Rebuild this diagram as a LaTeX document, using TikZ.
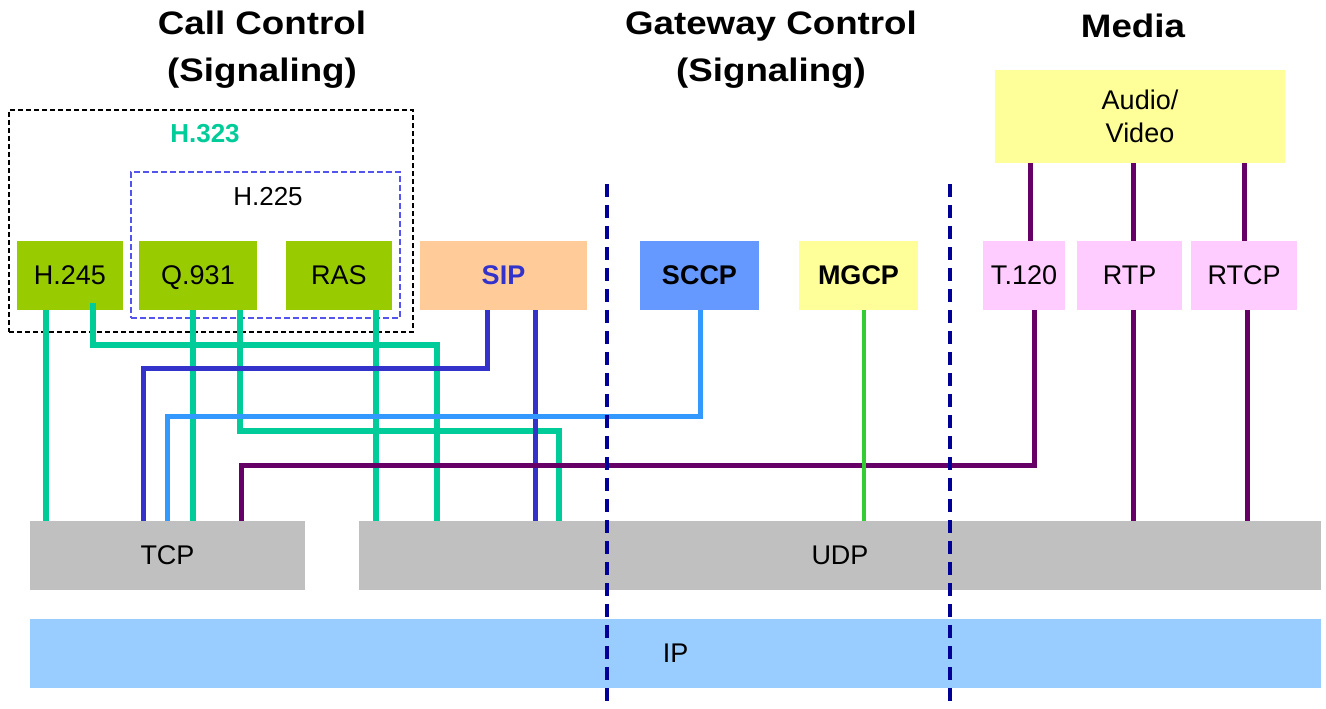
\documentclass[tikz,border=0pt]{standalone}
\usepackage{fontspec}
\setmainfont{Liberation Sans}
\newfontfamily\titlefont[FakeStretch=1.13]{Liberation Sans}

\definecolor{h323green}{HTML}{99CC00}
\definecolor{sipfill}{HTML}{FFCC99}
\definecolor{sccpfill}{HTML}{6699FF}
\definecolor{paleyellow}{HTML}{FFFF99}
\definecolor{palepink}{HTML}{FFCCFF}
\definecolor{layergrey}{HTML}{C0C0C0}
\definecolor{ipblue}{HTML}{99CCFF}
\definecolor{tealline}{HTML}{00CC99}
\definecolor{blueline}{HTML}{3333CC}
\definecolor{skyline}{HTML}{3399FF}
\definecolor{plumline}{HTML}{660066}
\definecolor{greenline}{HTML}{33CC33}
\definecolor{dividerblue}{HTML}{000099}
\definecolor{h225edge}{HTML}{5555EE}

\begin{document}
\begin{tikzpicture}[x=1pt,y=-1pt,
  proto/.style={inner sep=0pt, outer sep=0pt, minimum height=69pt, text depth=0pt,
    font=\fontsize{27}{33}\selectfont, align=center},
  boldproto/.style={proto, font=\fontsize{27}{33}\selectfont\bfseries},
  heading/.style={inner sep=0pt, font=\titlefont\fontsize{32.5}{47}\selectfont\bfseries, align=center},
  groupbox/.style={inner sep=0pt, outer sep=0pt, line width=1.3pt},
  teal/.style={draw=tealline, line width=6.5pt},
  sipwire/.style={draw=blueline, line width=5pt},
  sccpwire/.style={draw=skyline, line width=5pt},
  plum/.style={draw=plumline, line width=5pt},
  mgcpwire/.style={draw=greenline, line width=4pt},
  divider/.style={draw=dividerblue, line width=3.5pt, dash pattern=on 13pt off 8pt}
]
\useasboundingbox (0,0) rectangle (1326,709);

% column headings
\node[heading] (hcall) at (262,50) {Call Control\\(Signaling)};
\node[heading] (hgw) at (771,50) {Gateway Control\\(Signaling)};
\node[heading, anchor=base] (hmedia) at (1133,38) {Media};

% H.323 and H.225 groupings
\node[groupbox, draw=black, dash pattern=on 5pt off 3pt,
  minimum width=404pt, minimum height=222pt] (h323) at (211,221) {};
\node[font=\fontsize{26}{30}\selectfont\bfseries, text=tealline] (h323lbl) at (205,134) {H.323};
\node[groupbox, draw=h225edge, dash pattern=on 6pt off 3pt,
  minimum width=269pt, minimum height=146pt] (h225) at (265.5,245) {};
\node[font=\fontsize{26}{30}\selectfont] (h225lbl) at (268,197) {H.225};

% signalling protocols
\node[proto, fill=h323green, minimum width=106pt] (h245) at (70,275.5) {H.245};
\node[proto, fill=h323green, minimum width=118pt] (q931) at (198,275.5) {Q.931};
\node[proto, fill=h323green, minimum width=106pt] (ras) at (339,275.5) {RAS};
\node[boldproto, fill=sipfill, text=blueline, minimum width=167pt] (sip) at (503.5,275.5) {SIP};
\node[boldproto, fill=sccpfill, minimum width=119pt] (sccp) at (699.5,275.5) {SCCP};
\node[boldproto, fill=paleyellow, minimum width=119pt] (mgcp) at (858.5,275.5) {MGCP};

% media protocols
\node[proto, fill=paleyellow, minimum width=290pt, minimum height=93pt] (av) at (1140,116.5) {Audio/\\Video};
\node[proto, fill=palepink, minimum width=82pt] (t120) at (1024,275.5) {T.120};
\node[proto, fill=palepink, minimum width=105pt] (rtp) at (1129.5,275.5) {RTP};
\node[proto, fill=palepink, minimum width=106pt] (rtcp) at (1244,275.5) {RTCP};

% transport and network layers
\node[proto, fill=layergrey, minimum width=275pt] (tcp) at (167.5,555.5) {TCP};
\node[proto, fill=layergrey, minimum width=962pt] (udp) at (840,555.5) {UDP};
\node[proto, fill=ipblue, minimum width=1291pt] (ip) at (675.5,653.5) {IP};

% H.323 family wiring
\draw[teal] ([xshift=29pt]h245.south west) -- ([xshift=16pt]tcp.north west);
\draw[teal] ([xshift=76pt,yshift=7pt]h245.south west) -- ++(0,42) -| ([xshift=78pt]udp.north west);
\draw[teal] ([xshift=54pt]q931.south west) -- ([xshift=163pt]tcp.north west);
\draw[teal] ([xshift=101pt]q931.south west) -- ++(0,121) -| ([xshift=200pt]udp.north west);
\draw[teal] ([xshift=90pt]ras.south west) -- ([xshift=17pt]udp.north west);

% SIP and SCCP wiring
\draw[sipwire] ([xshift=67pt]sip.south west) -- ++(0,58) -| ([xshift=113pt]tcp.north west);
\draw[sipwire] ([xshift=115pt]sip.south west) -- ([xshift=176pt]udp.north west);
\draw[sccpwire] ([xshift=60pt]sccp.south west) -- ++(0,106) -| ([xshift=137pt]tcp.north west);

% media wiring
\draw[plum] ([xshift=51pt]t120.south west) -- ++(0,155) -| ([xshift=211pt]tcp.north west);
\draw[mgcpwire] ([xshift=65pt]mgcp.south west) -- ([xshift=505pt]udp.north west);
\draw[plum] ([xshift=35pt]av.south west) -- ([xshift=47pt]t120.north west);
\draw[plum] ([xshift=138pt]av.south west) -- ([xshift=56pt]rtp.north west);
\draw[plum] ([xshift=249pt]av.south west) -- ([xshift=53pt]rtcp.north west);
\draw[plum] ([xshift=56pt]rtp.south west) -- ([xshift=774pt]udp.north west);
\draw[plum] ([xshift=56pt]rtcp.south west) -- ([xshift=888pt]udp.north west);

% column dividers
\coordinate (d1top) at (607,184);
\coordinate (d1bot) at (607,709);
\coordinate (d2top) at (950,184);
\coordinate (d2bot) at (950,709);
\draw[divider] (d1top) -- (d1bot);
\draw[divider] (d2top) -- (d2bot);
\end{tikzpicture}
\end{document}
